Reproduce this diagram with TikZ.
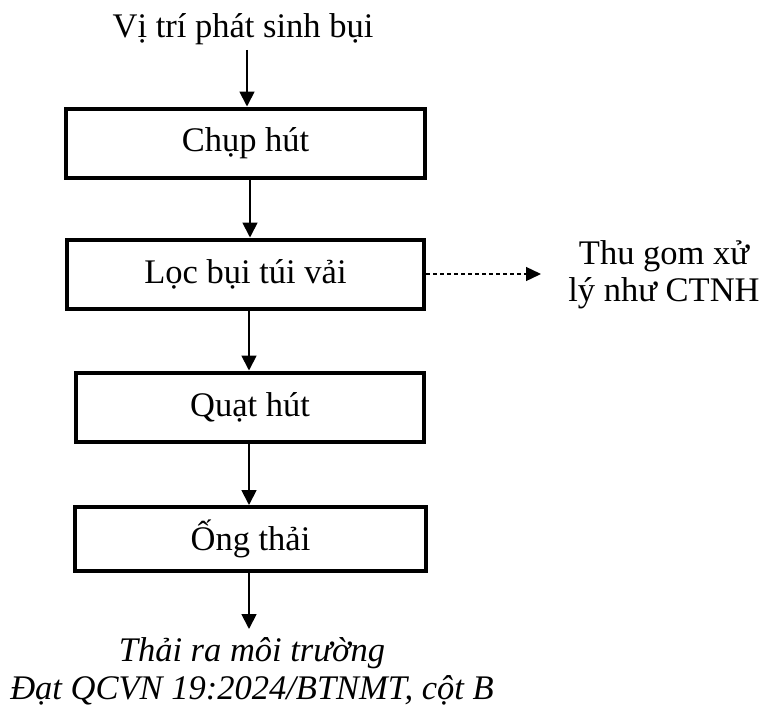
\documentclass[tikz,border=0pt]{standalone}
\usepackage{fontspec}
\setmainfont{Liberation Serif}
\usetikzlibrary{arrows.meta}
\begin{document}
\begin{tikzpicture}[x=1pt,y=-1pt,
  every node/.style={font=\fontsize{34.5}{37}\selectfont, inner sep=0pt},
  stepbox/.style={draw, line width=4pt, rectangle, minimum height=69pt},
  flow/.style={line width=1.8pt, -{Triangle[width=15pt,length=15pt]}},
  side/.style={line width=1.3pt, dash pattern=on 4pt off 3pt, -{Triangle[width=14pt,length=15pt]}},
  label/.style={align=center}]
  \useasboundingbox (0,0) rectangle (766,718);

  % source and process steps
  \node[label] (src) at (243,29) {Vị trí phát sinh bụi};
  \node[stepbox, minimum width=359pt] (b1) at (245.5,143) {Chụp hút};
  \node[stepbox, minimum width=357pt] (b2) at (245.5,274) {Lọc bụi túi vải};
  \node[stepbox, minimum width=348pt] (b3) at (250,407) {Quạt hút};
  \node[stepbox, minimum width=351pt, minimum height=64pt] (b4) at (250.5,539) {Ống thải};

  % side output and final discharge
  \node[label] (waste) at (664,275) {Thu gom xử\\lý như CTNH};
  \node[label, font=\fontsize{34.5}{38}\selectfont\itshape] (out) at (252,671)
    {Thải ra môi trường\\Đạt QCVN 19:2024/BTNMT, cột B};

  % verticals for the connectors
  \coordinate (c0) at (247,0);
  \coordinate (c1) at (250,0);
  \coordinate (c2) at (249,0);
  \coordinate (c3) at (249,0);
  \coordinate (c4) at (249,0);
  \coordinate (sideend) at (541,274);
  \coordinate (outtop) at (249,629);

  \draw[flow] ([yshift=-5pt]src.south -| c0) -- (b1.north -| c0);
  \draw[flow] (b1.south -| c1) -- (b2.north -| c1);
  \draw[flow] (b2.south -| c2) -- (b3.north -| c2);
  \draw[flow] (b3.south -| c3) -- (b4.north -| c3);
  \draw[flow] (b4.south -| c4) -- (outtop);
  \draw[side] (b2.east) -- (sideend);
\end{tikzpicture}
\end{document}
